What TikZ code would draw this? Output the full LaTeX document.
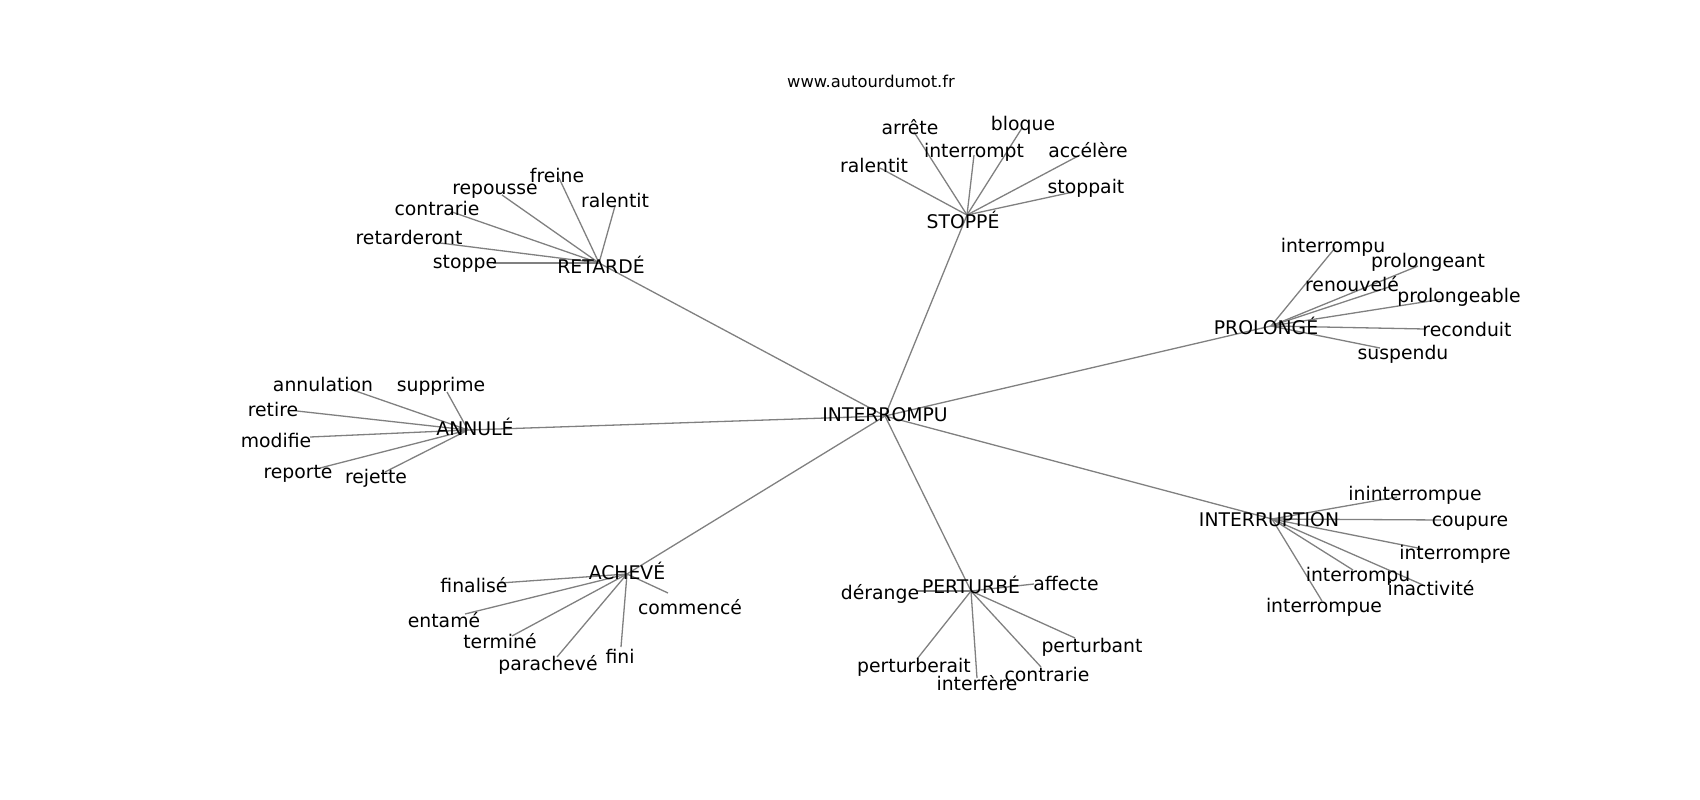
\documentclass[tikz,border=0pt]{standalone}
\usepackage{fontspec}
\setmainfont{DejaVu Sans}

\begin{document}
\begin{tikzpicture}[
	x=1pt, y=-1pt,
	link/.style={draw, color=black!50, line width=1.3pt},
	word/.style={anchor=base, inner sep=0pt, font=\fontsize{18.8}{22}\selectfont},
	site/.style={anchor=base, inner sep=0pt, font=\fontsize{16.3}{19}\selectfont}
]
\useasboundingbox (0,0) rectangle (1700,800);

%% Points of the graph
\coordinate (centre) at (885,416);
\coordinate (retarde) at (599,263);
\coordinate (stoppe) at (967,215);
\coordinate (prolonge) at (1271,326);
\coordinate (annule) at (468,430);
\coordinate (acheve) at (627,574);
\coordinate (perturbe) at (971,591);
\coordinate (interruption) at (1272,519);

\coordinate (freine) at (559,178);
\coordinate (ralentit) at (615,206);
\coordinate (repousse) at (502,195);
\coordinate (contrarie) at (452,212);
\coordinate (retarderont) at (440,243);
\coordinate (stoppe-r) at (493,263);

\coordinate (arrete) at (914,132);
\coordinate (bloque) at (1022,128);
\coordinate (interrompt) at (974,155);
\coordinate (accelere) at (1080,155);
\coordinate (ralentit-s) at (880,168);
\coordinate (stoppait) at (1073,192);

\coordinate (interrompu-p) at (1335,248);
\coordinate (prolongeant) at (1418,266);
\coordinate (renouvele) at (1395,285);
\coordinate (prolongeable) at (1443,299);
\coordinate (reconduit) at (1425,329);
\coordinate (suspendu) at (1380,348);

\coordinate (annulation) at (347,388);
\coordinate (supprime) at (447,392);
\coordinate (retire) at (297,411);
\coordinate (modifie) at (310,437);
\coordinate (reporte) at (320,468);
\coordinate (rejette) at (385,472);

\coordinate (finalise) at (500,583);
\coordinate (entame) at (465,614);
\coordinate (termine) at (512,636);
\coordinate (paracheve) at (557,657);
\coordinate (fini) at (621,647);
\coordinate (commence) at (668,593);

\coordinate (derange) at (917,591);
\coordinate (affecte) at (1034,584);
\coordinate (perturbant) at (1075,638);
\coordinate (perturberait) at (917,659);
\coordinate (interfere) at (977,678);
\coordinate (contrarie-p) at (1041,667);

\coordinate (ininterrompue) at (1397,497);
\coordinate (coupure) at (1443,520);
\coordinate (interrompre) at (1423,549);
\coordinate (interrompu-i) at (1353,570);
\coordinate (inactivite) at (1423,585);
\coordinate (interrompue) at (1322,601);

%% Draw edges
\path
	(centre) edge [link] (retarde)
	(centre) edge [link] (stoppe)
	(centre) edge [link] (prolonge)
	(centre) edge [link] (annule)
	(centre) edge [link] (acheve)
	(centre) edge [link] (perturbe)
	(centre) edge [link] (interruption)
	(retarde) edge [link] (freine)
	(retarde) edge [link] (ralentit)
	(retarde) edge [link] (repousse)
	(retarde) edge [link] (contrarie)
	(retarde) edge [link] (retarderont)
	(retarde) edge [link] (stoppe-r)
	(stoppe) edge [link] (arrete)
	(stoppe) edge [link] (bloque)
	(stoppe) edge [link] (interrompt)
	(stoppe) edge [link] (accelere)
	(stoppe) edge [link] (ralentit-s)
	(stoppe) edge [link] (stoppait)
	(prolonge) edge [link] (interrompu-p)
	(prolonge) edge [link] (prolongeant)
	(prolonge) edge [link] (renouvele)
	(prolonge) edge [link] (prolongeable)
	(prolonge) edge [link] (reconduit)
	(prolonge) edge [link] (suspendu)
	(annule) edge [link] (annulation)
	(annule) edge [link] (supprime)
	(annule) edge [link] (retire)
	(annule) edge [link] (modifie)
	(annule) edge [link] (reporte)
	(annule) edge [link] (rejette)
	(acheve) edge [link] (finalise)
	(acheve) edge [link] (entame)
	(acheve) edge [link] (termine)
	(acheve) edge [link] (paracheve)
	(acheve) edge [link] (fini)
	(acheve) edge [link] (commence)
	(perturbe) edge [link] (derange)
	(perturbe) edge [link] (affecte)
	(perturbe) edge [link] (perturbant)
	(perturbe) edge [link] (perturberait)
	(perturbe) edge [link] (interfere)
	(perturbe) edge [link] (contrarie-p)
	(interruption) edge [link] (ininterrompue)
	(interruption) edge [link] (coupure)
	(interruption) edge [link] (interrompre)
	(interruption) edge [link] (interrompu-i)
	(interruption) edge [link] (inactivite)
	(interruption) edge [link] (interrompue)
	;

%% Draw labels
\node[site] (site) at (871,88) {www.autourdumot.fr};

\node[word] (centre-t) at (885,421) {INTERROMPU};
\node[word] (retarde-t) at (601,273) {RETARDÉ};
\node[word] (stoppe-t) at (963,228) {STOPPÉ};
\node[word] (prolonge-t) at (1266,334) {PROLONGÉ};
\node[word] (annule-t) at (475,435) {ANNULÉ};
\node[word] (acheve-t) at (627,579) {ACHEVÉ};
\node[word] (perturbe-t) at (971,593) {PERTURBÉ};
\node[word] (interruption-t) at (1269,526) {INTERRUPTION};

\node[word] (freine-t) at (557,182) {freine};
\node[word] (ralentit-t) at (615,207) {ralentit};
\node[word] (repousse-t) at (495,194) {repousse};
\node[word] (contrarie-t) at (437,215) {contrarie};
\node[word] (retarderont-t) at (409,244) {retarderont};
\node[word] (stoppe-r-t) at (465,268) {stoppe};

\node[word] (arrete-t) at (910,134) {arrête};
\node[word] (bloque-t) at (1023,130) {bloque};
\node[word] (interrompt-t) at (974,157) {interrompt};
\node[word] (accelere-t) at (1088,157) {accélère};
\node[word] (ralentit-s-t) at (874,172) {ralentit};
\node[word] (stoppait-t) at (1086,193) {stoppait};

\node[word] (interrompu-p-t) at (1333,252) {interrompu};
\node[word] (prolongeant-t) at (1428,267) {prolongeant};
\node[word] (renouvele-t) at (1352,291) {renouvelé};
\node[word] (prolongeable-t) at (1459,302) {prolongeable};
\node[word] (reconduit-t) at (1467,336) {reconduit};
\node[word] (suspendu-t) at (1403,359) {suspendu};

\node[word] (annulation-t) at (323,391) {annulation};
\node[word] (supprime-t) at (441,391) {supprime};
\node[word] (retire-t) at (273,416) {retire};
\node[word] (modifie-t) at (276,447) {modifie};
\node[word] (reporte-t) at (298,478) {reporte};
\node[word] (rejette-t) at (376,483) {rejette};

\node[word] (finalise-t) at (474,592) {finalisé};
\node[word] (entame-t) at (444,627) {entamé};
\node[word] (termine-t) at (500,648) {terminé};
\node[word] (paracheve-t) at (548,670) {parachevé};
\node[word] (fini-t) at (620,663) {fini};
\node[word] (commence-t) at (690,614) {commencé};

\node[word] (derange-t) at (880,599) {dérange};
\node[word] (affecte-t) at (1066,590) {affecte};
\node[word] (perturbant-t) at (1092,652) {perturbant};
\node[word] (perturberait-t) at (914,672) {perturberait};
\node[word] (interfere-t) at (977,690) {interfère};
\node[word] (contrarie-p-t) at (1047,681) {contrarie};

\node[word] (ininterrompue-t) at (1415,500) {ininterrompue};
\node[word] (coupure-t) at (1470,526) {coupure};
\node[word] (interrompre-t) at (1455,559) {interrompre};
\node[word] (interrompu-i-t) at (1358,581) {interrompu};
\node[word] (inactivite-t) at (1431,595) {inactivité};
\node[word] (interrompue-t) at (1324,612) {interrompue};

\end{tikzpicture}
\end{document}
